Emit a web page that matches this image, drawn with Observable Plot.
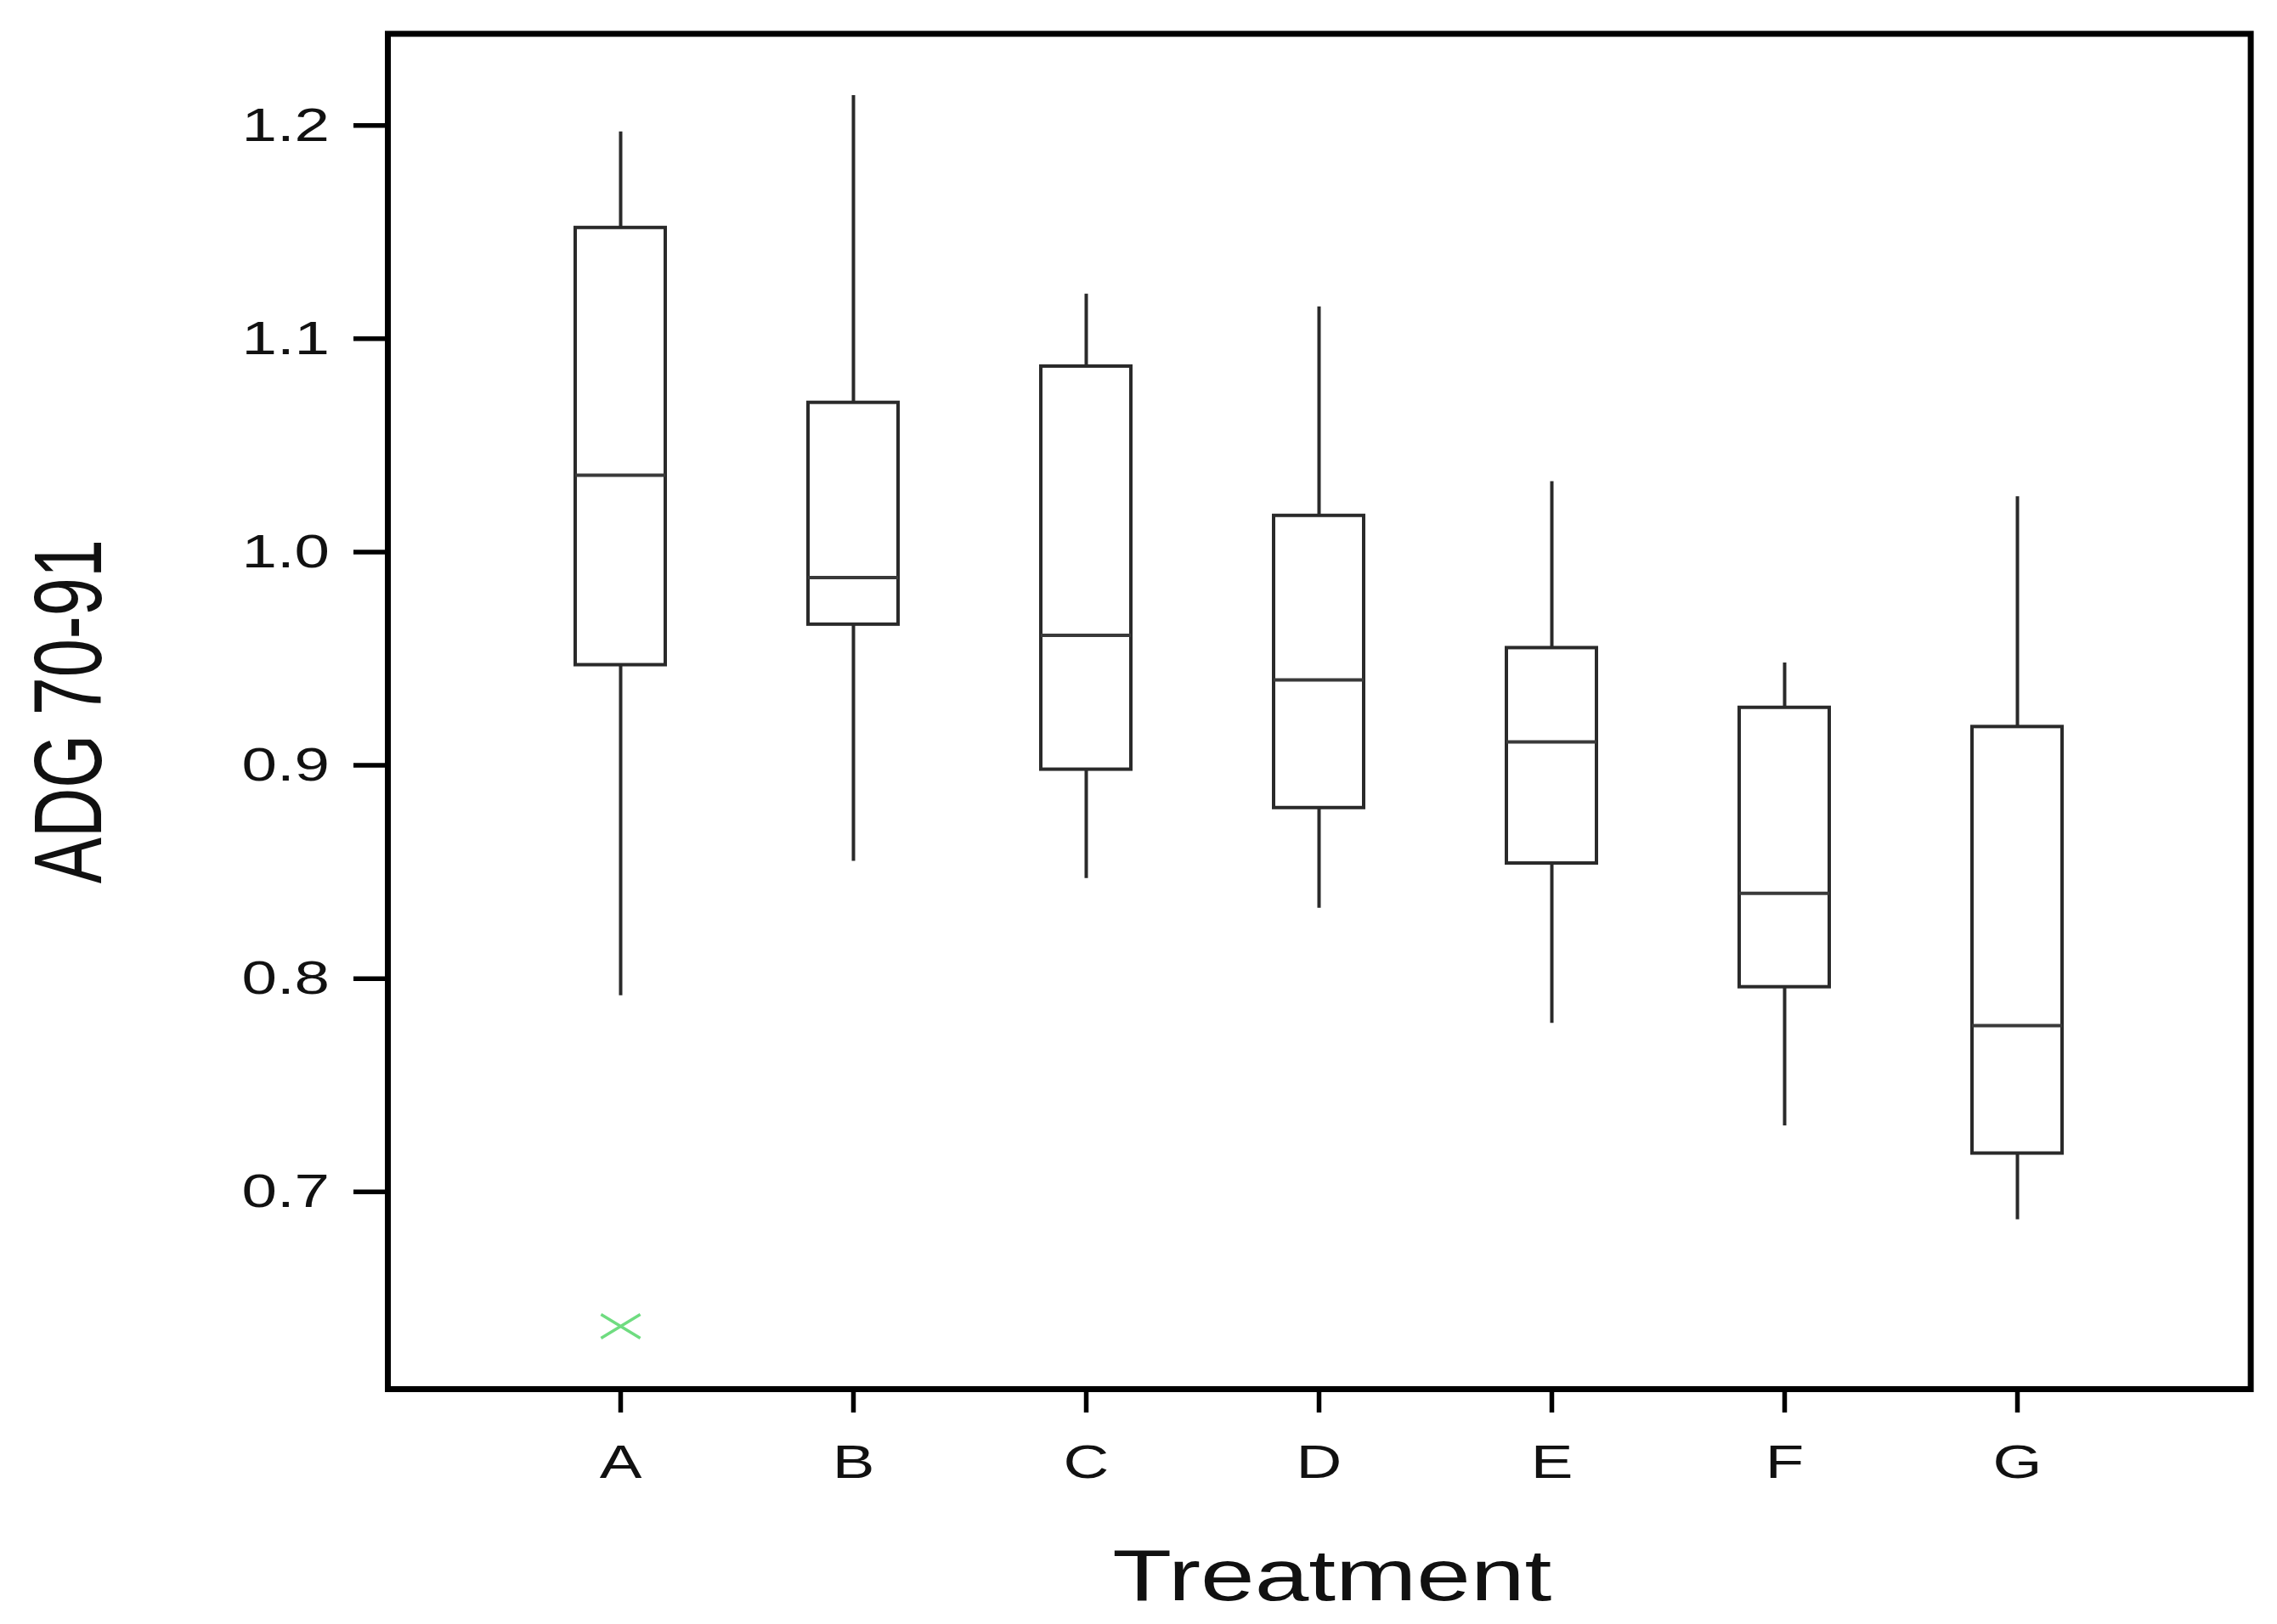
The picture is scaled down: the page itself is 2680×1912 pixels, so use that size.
<!DOCTYPE html>
<html>
<head>
<meta charset="utf-8">
<script src="https://cdn.jsdelivr.net/npm/d3@7"></script>
<script src="https://cdn.jsdelivr.net/npm/@observablehq/plot@0.6"></script>
<style>
html, body { margin: 0; padding: 0; background: #fff; }
#chart svg { display: block; }
</style>
</head>
<body>
<div id="chart"></div>
<script>
// ---- data ----
const treatments   = ["A", "B", "C", "D", "E", "F", "G"];
const whiskerLow   = [0.792, 0.855, 0.847, 0.833, 0.779, 0.731, 0.687];
const quartile1    = [0.947, 0.966, 0.898, 0.880, 0.854, 0.796, 0.718];
const medians      = [1.036, 0.988, 0.961, 0.940, 0.911, 0.840, 0.778];
const quartile3    = [1.152, 1.070, 1.087, 1.017, 0.955, 0.927, 0.918];
const whiskerHigh  = [1.197, 1.214, 1.121, 1.115, 1.033, 0.948, 1.026];
const outlierTreatment = ["A"];
const outlierValue     = [0.637];
const yTicks = [0.7, 0.8, 0.9, 1.0, 1.1, 1.2];
const xTitle = "Treatment";
const yTitle = "ADG 70-91";

const rows = treatments.map((t, i) => ({
  t, lo: whiskerLow[i], q1: quartile1[i], med: medians[i], q3: quartile3[i], hi: whiskerHigh[i]
}));
const outs = outlierTreatment.map((t, i) => ({t, v: outlierValue[i]}));

// a wide "×" symbol, as in the reference
const wideTimes = {
  draw(context, size) {
    const ry = Math.sqrt(size / Math.PI);
    const rx = ry * 1.65;
    context.moveTo(-rx, -ry); context.lineTo(rx, ry);
    context.moveTo(-rx, ry); context.lineTo(rx, -ry);
  }
};

const chart = Plot.plot({
  width: 2680,
  height: 1912,
  marginLeft: 456,
  marginRight: 31.4,
  marginTop: 39.3,
  marginBottom: 277,
  style: {fontFamily: "'Liberation Sans', Arial, sans-serif", background: "white", color: "black"},
  x: {type: "band", domain: treatments, paddingInner: 0.613, paddingOuter: 0.8065},
  y: {domain: [0.6075, 1.243]},
  marks: [
    Plot.axisY({ticks: yTicks, tickFormat: d3.format(".1f"), tickSize: 40, tickPadding: 28.5,
                fontSize: 56, strokeWidth: 5.5, stroke: "black", fill: "#111", label: null}),
    Plot.axisX({tickSize: 28, tickPadding: 36.5, fontSize: 56, strokeWidth: 5.5,
                stroke: "black", fill: "#111", label: null}),
    Plot.ruleX(rows, {x: "t", y1: "lo", y2: "hi", stroke: "#2a2a2a", strokeWidth: 4}),
    Plot.barY(rows, {x: "t", y1: "q1", y2: "q3", fill: "white", stroke: "#2a2a2a", strokeWidth: 4}),
    Plot.tickY(rows, {x: "t", y: "med", stroke: "#3a3a3a", strokeWidth: 4}),
    Plot.dot(outs, {x: "t", y: "v", symbol: wideTimes, r: 14, stroke: "#6fdc80", strokeWidth: 3.5}),
    Plot.frame({stroke: "black", strokeWidth: 7}),
    Plot.text([yTitle], {text: d => d, frameAnchor: "left", dx: -338, rotate: -90,
                         textAnchor: "middle", lineAnchor: "bottom", fontSize: 81, fill: "#111"}),
    Plot.text([xTitle], {text: d => d, frameAnchor: "bottom", dx: 15, dy: 248, lineAnchor: "bottom",
                         fontSize: 86, fill: "#111"})
  ]
});

document.getElementById("chart").append(chart);

// the reference's lettering is horizontally widened; widen text glyphs accordingly
const K = 1.33;
chart.querySelectorAll("text").forEach(t => {
  if (t.textContent === yTitle) {
    t.setAttribute("transform", (t.getAttribute("transform") || "") + " scale(1,1.4)");
  } else {
    const L = t.getComputedTextLength();
    if (L > 0) {
      t.setAttribute("textLength", L * K);
      t.setAttribute("lengthAdjust", "spacingAndGlyphs");
    }
  }
});
</script>
</body>
</html>
